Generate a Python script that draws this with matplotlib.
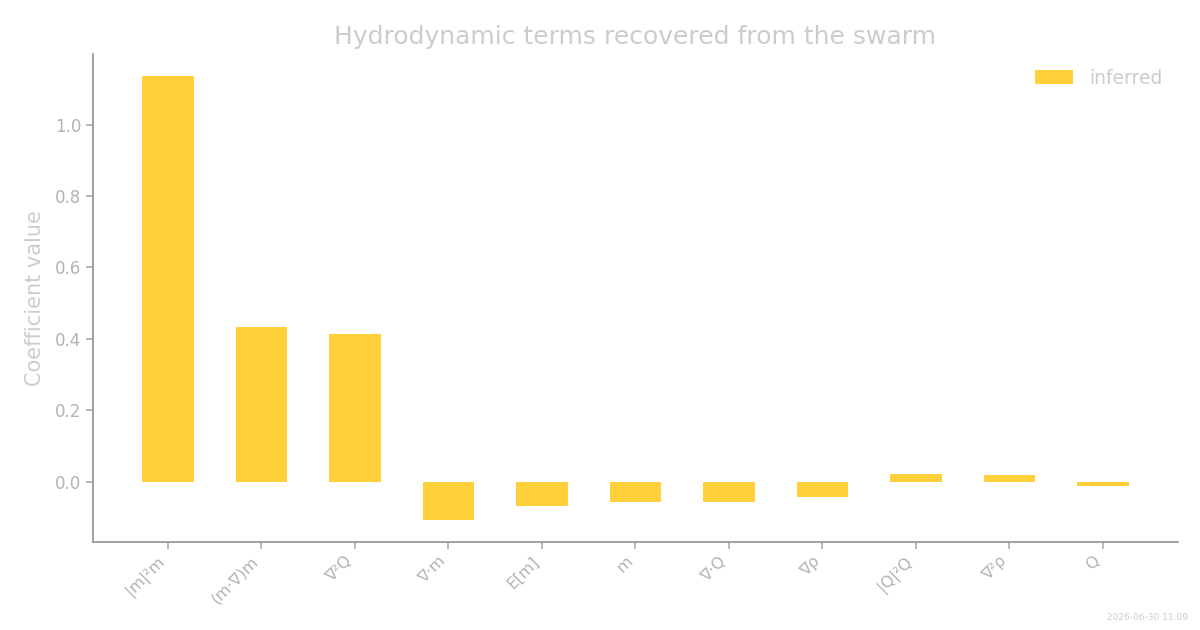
import matplotlib
matplotlib.use("Agg")
import matplotlib.pyplot as plt
import numpy as np

terms = ["|m|²m", "(m·∇)m", "∇²Q", "∇·m", "E[m]", "m", "∇·Q", "∇ρ", "|Q|²Q", "∇²ρ", "Q"]
inferred = [1.137, 0.434, 0.415, -0.106, -0.067, -0.056, -0.056, -0.042, 0.022, 0.020, -0.011]

fig = plt.figure(figsize=(12, 6.3), dpi=100)
ax = fig.add_axes([0.0775, 0.14, 0.904, 0.775])

x = np.arange(len(terms))
ax.bar(x, inferred, width=0.55, color="#FFD03A", label="inferred", zorder=2)

ax.set_xlim(-0.8, len(terms) - 0.2)
ax.set_ylim(-0.168, 1.199)
ax.set_yticks([0.0, 0.2, 0.4, 0.6, 0.8, 1.0])
ax.set_xticks(x)
ax.set_xticklabels(terms, rotation=45, ha="right")

for s in ["top", "right"]:
    ax.spines[s].set_visible(False)
for s in ["left", "bottom"]:
    ax.spines[s].set_color("#999999")
    ax.spines[s].set_linewidth(1.3)
ax.tick_params(axis="both", colors="#aaaaaa", labelcolor="#b3b3b3", labelsize=11.5, length=5, width=1.2)
ax.tick_params(axis="y", labelsize=12)

ax.set_ylabel("Coefficient value", color="#cccccc", fontsize=15, labelpad=7)
ax.set_title("Hydrodynamic terms recovered from the swarm", color="#cccccc", fontsize=18, pad=7)

leg = ax.legend(loc="upper right", frameon=False, fontsize=13.5, handlelength=2.0, handleheight=0.7,
                borderaxespad=0.4, handletextpad=0.9)
for t in leg.get_texts():
    t.set_color("#cccccc")

fig.text(0.99, 0.012, "2026-06-30 11:09", color="#cccccc", fontsize=6.5, ha="right", va="bottom")

fig.savefig("out.png", dpi=100)
